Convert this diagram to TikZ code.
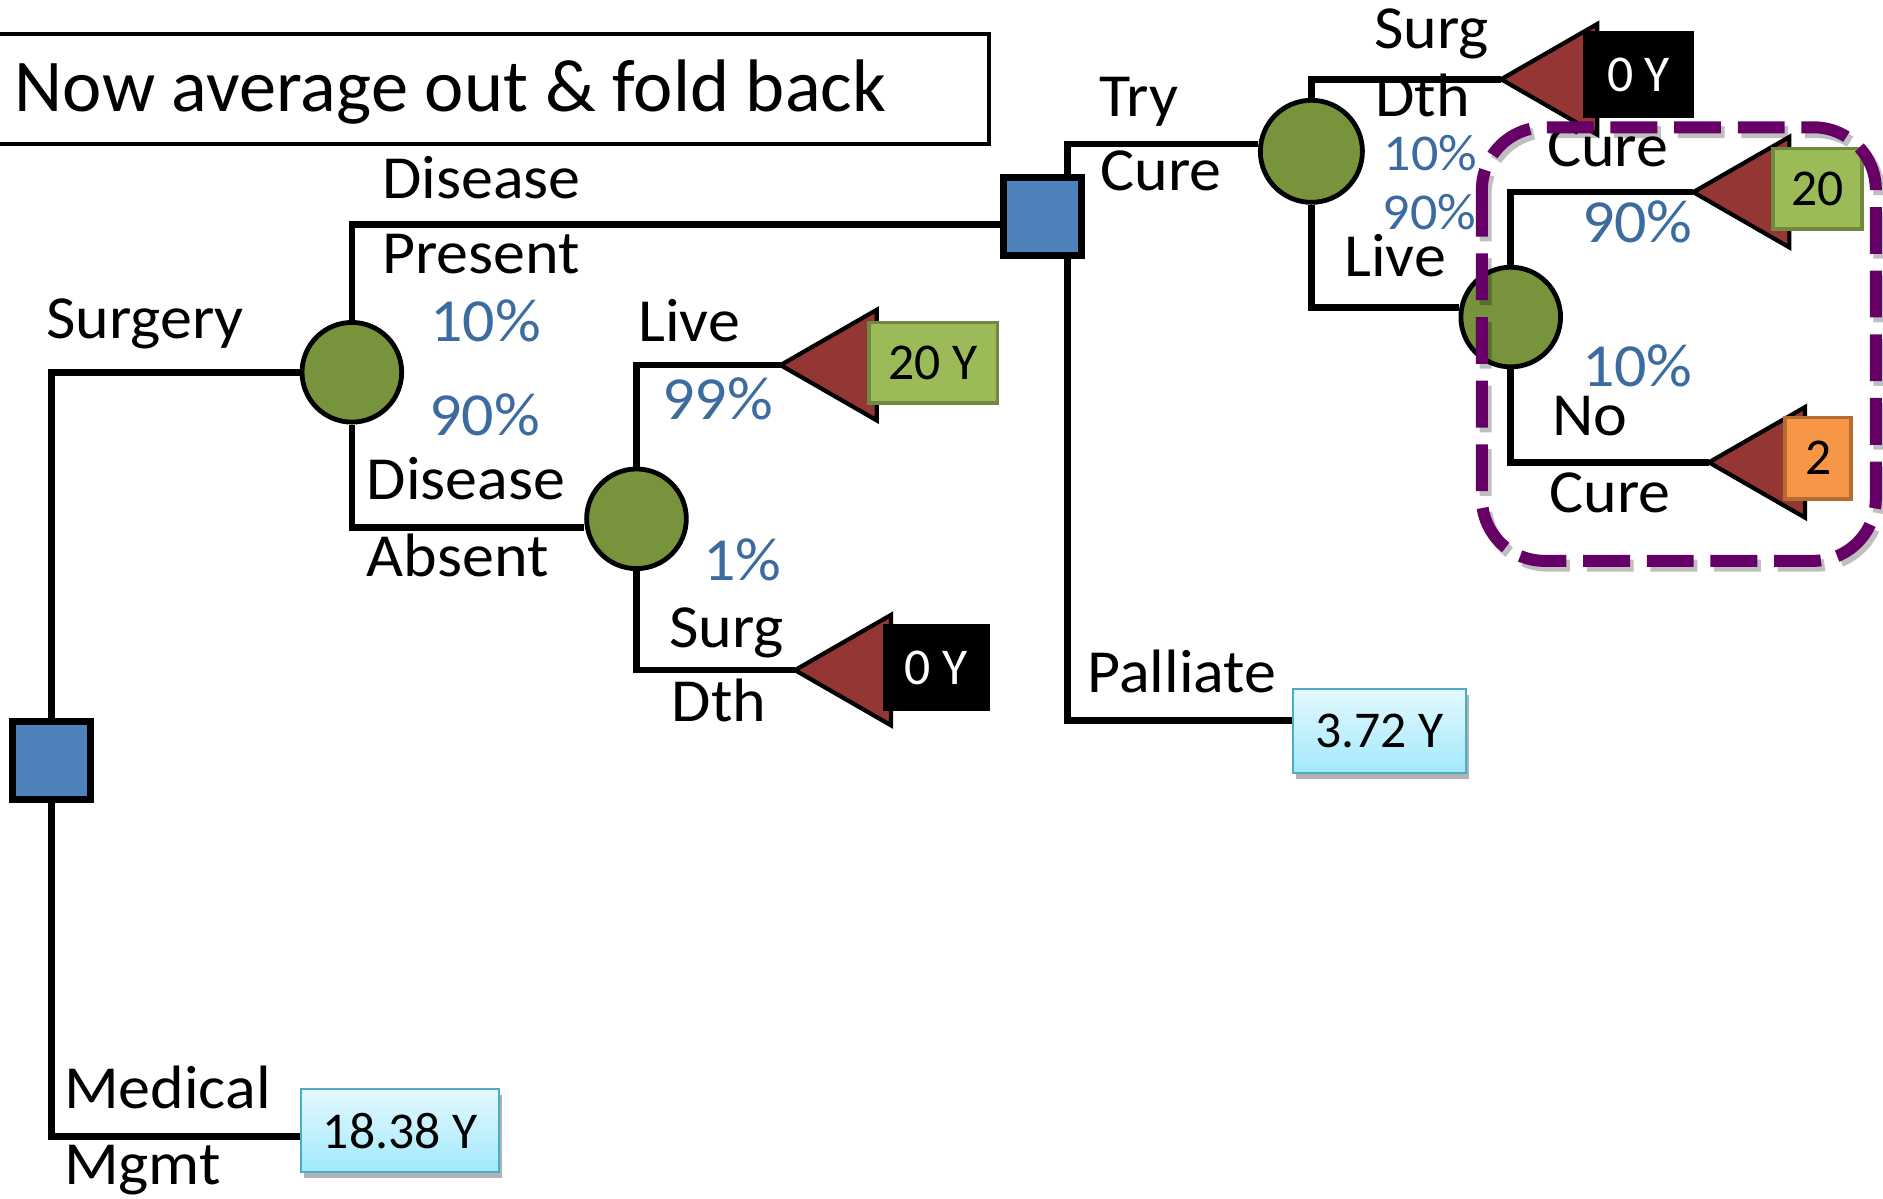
\documentclass[tikz,border=0pt]{standalone}
\usepackage{fontspec}
\setmainfont{Carlito}
\newfontfamily\widefont{Carlito}[FakeStretch=1.045]
\usetikzlibrary{calc,backgrounds,shadows}
\definecolor{decblue}{HTML}{4F81BD}
\definecolor{chgreen}{HTML}{77933C}
\definecolor{tred}{HTML}{943634}
\definecolor{boxgreen}{HTML}{9BBB59}
\definecolor{boxgreenb}{HTML}{71893F}
\definecolor{boxorange}{HTML}{F79646}
\definecolor{boxorangeb}{HTML}{B66D31}
\definecolor{cyantop}{HTML}{E4F9FF}
\definecolor{cyanbot}{HTML}{A2E9FB}
\definecolor{cyanb}{HTML}{4BACC6}
\definecolor{pctblue}{HTML}{3C6BA0}
\definecolor{purp}{HTML}{660066}
\begin{document}
\begin{tikzpicture}[x=0.5pt,y=-0.5pt,
 tree/.style={line width=2.75pt},
 dec/.style={rectangle, draw=black, line width=3pt, fill=decblue, minimum size=32.5pt, inner sep=0pt},
 chance/.style={circle, draw=black, line width=2pt, fill=chgreen, minimum size=41.5pt, inner sep=0pt},
 lab/.style={anchor=base west, inner sep=0pt, font=\widefont\fontsize{25.5}{30}\selectfont},
 pct/.style={lab, text=pctblue},
 spct/.style={pct, font=\widefont\fontsize{21.5}{26}\selectfont},
 val/.style={rectangle, inner sep=0pt, font=\fontsize{21.5}{26}\selectfont},
 vgreen/.style={val, fill=boxgreen, draw=boxgreenb, line width=1.5pt},
 vblack/.style={val, fill=black, text=white},
 vorange/.style={val, fill=boxorange, draw=boxorangeb, line width=1.5pt},
 vcyan/.style={val, draw=cyanb, line width=0.8pt, top color=cyantop, bottom color=cyanbot,
   drop shadow={shadow xshift=1.2pt, shadow yshift=-2.5pt, opacity=0.3, fill=black}},
 termtri/.style={fill=tred, draw=black, line width=1.75pt, line join=miter},
 dashbox/.style={line width=5pt, dash pattern=on 19.5pt off 7pt, rounded corners=26pt},
]
\useasboundingbox (0,0) rectangle (1568,998);

% title
\node[draw=black, line width=1.6pt, anchor=north west, minimum width=413.5pt, minimum height=45.5pt, inner sep=0pt] (titlebox) at (-5,27) {};
\node[anchor=base west, inner sep=0pt, font=\fontsize{31}{36}\selectfont] (title) at (12,93) {Now average out \& fold back};

% decision and chance nodes
\node[dec] (d1) at (43,633) {};
\node[dec] (d2) at (868,180) {};
\node[chance] (c1) at (293,310) {};
\node[chance] (c2) at (530,432) {};
\node[chance, minimum size=42.5pt] (c3) at (1092,126) {};
\node[chance] (c4) at (1258,264) {};

% terminal tips
\coordinate (t1) at (650,304);
\coordinate (t2) at (662,558);
\coordinate (t3) at (1250,66);
\coordinate (t4) at (1410,160);
\coordinate (t5) at (1423,385);
\foreach \t in {t1,t2,t3,t4,t5}{
  \draw[termtri] (\t) -- ++(80,-46) -- ++(0,92) -- cycle;
}

% value boxes
\node[vcyan, minimum width=82.5pt, minimum height=34.5pt] (v1) at (333.3,941.5) {18.38 Y};
\node[vgreen, minimum width=53.5pt, minimum height=33.5pt] (v2) at (777,302) {20 Y};
\node[vblack, minimum width=44.5pt, minimum height=36pt] (v3) at (779.5,556) {0 Y};
\node[vcyan, minimum width=72pt, minimum height=35pt] (v4) at (1148.7,609) {3.72 Y};
\node[vblack, minimum width=46.5pt, minimum height=36pt] (v5) at (1364.5,62) {0 Y};
\node[vgreen, minimum width=37pt, minimum height=33.5pt] (v6) at (1513.5,157) {20};
\node[vorange, minimum width=27.5pt, minimum height=34pt] (v7) at (1514,381.5) {2};

% connectors
\begin{scope}[on background layer]
\draw[tree] (c1.west) -| (d1.center) |- ($(v1.west)+(0,5)$);
\draw[tree] (c1.north) |- ($(d2.west)+(0,7)$);
\draw[tree] (c1.south) |- ($(c2.west)+(0,7)$);
\draw[tree] (c2.north) |- (t1);
\draw[tree] (c2.south) |- (t2);
\draw[tree] ($(c3.west)+(0,-6)$) -| ($(d2.center)+(21,0)$) |- ($(v4.west)+(0,-9)$);
\draw[tree] (c3.north) |- (t3);
\draw[tree] (c3.south) |- ($(c4.west)+(0,-8)$);
\draw[tree] (c4.north) |- (t4);
\draw[tree] (c4.south) |- (t5);
\end{scope}

% labels
\node[lab] (lsurg) at (38,282) {Surgery};
\node[lab] (lmed) at (53,923) {Medical};
\node[lab] (lmgmt) at (53,986) {Mgmt};
\node[lab] (ldp1) at (318,165) {Disease};
\node[lab] (ldp2) at (318,228) {Present};
\node[pct] (p10a) at (358,284) {10\%};
\node[pct] (p90a) at (357,363) {90\%};
\node[lab] (lda1) at (305,416) {Disease};
\node[lab] (lda2) at (305,480) {Absent};
\node[lab] (llive1) at (531,284) {Live};
\node[pct] (p99) at (551,349) {99\%};
\node[pct] (p1) at (585,483) {1\%};
\node[lab] (lsd1) at (557,539) {Surg};
\node[lab] (lsd2) at (559,601) {Dth};
\node[lab] (ltry) at (915,97) {Try};
\node[lab] (lcure) at (916,159) {Cure};
\node[lab] (lpall) at (905,577) {Palliate};
\node[lab] (lsd3) at (1144,40) {Surg};
\node[lab] (lsd4) at (1145,97) {Dth};
\node[spct] (p10b) at (1152,142) {10\%};
\node[spct] (p90b) at (1151,191) {90\%};
\node[lab] (llive2) at (1119,230) {Live};
\node[lab] (lcure2) at (1288,139) {Cure};
\node[pct] (p90c) at (1317,202) {90\%};
\node[pct] (p10c) at (1317,322) {10\%};
\node[lab] (lno1) at (1292,363) {No};
\node[lab] (lno2) at (1290,427) {Cure};

% dashed highlight with shadow
\draw[dashbox, black, opacity=0.25] (1237,110) rectangle (1565,471);
\draw[dashbox, purp] (1234,106) rectangle (1562,467);
\end{tikzpicture}
\end{document}
